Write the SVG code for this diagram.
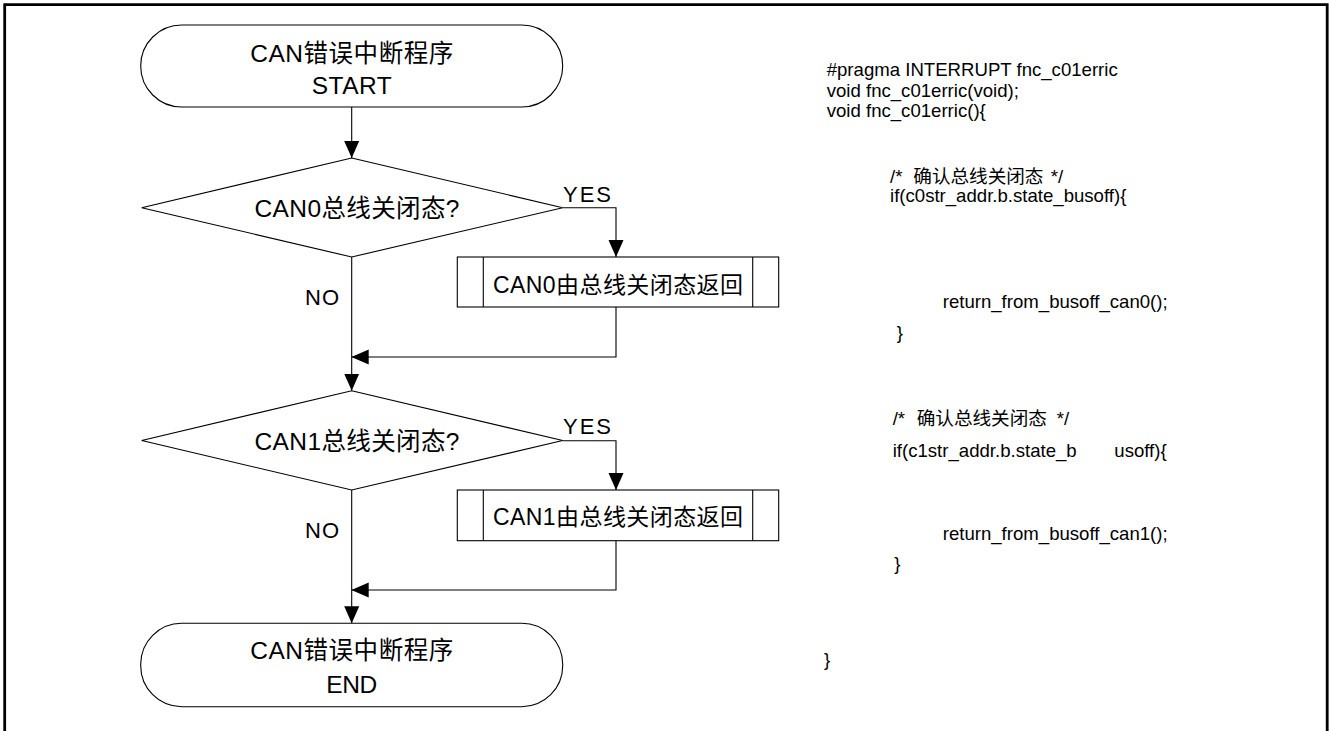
<svg xmlns="http://www.w3.org/2000/svg" width="1329" height="731" viewBox="0 0 1329 731">
  <style>
    .shape { fill: #ffffff; stroke: #000000; stroke-width: 1.1; }
    .line { fill: none; stroke: #000000; stroke-width: 1.1; }
    .lbl { font-family: "Liberation Sans", "Noto Sans CJK SC", sans-serif; font-size: 22px; fill: #000000; }
    .box { font-size: 23px; }
    .big { font-size: 24.5px; }
    .code { font-family: "Liberation Sans", "Noto Sans CJK SC", sans-serif; font-size: 18.6px; fill: #000000; }
  </style>
  <defs>
    <marker id="arrow" markerUnits="userSpaceOnUse" markerWidth="17" markerHeight="17" viewBox="0 0 17 17" refX="17" refY="8.5" orient="auto">
      <path d="M0,1 L17,8.5 L0,16 Z" fill="#000000"/>
    </marker>
  </defs>

  <rect width="1329" height="731" fill="#ffffff"/>

  <!-- outer frame (open at the bottom) -->
  <path d="M4.7,731 V4.7 H1327.2 V731" fill="none" stroke="#000000" stroke-width="2.8"/>

  <!-- connectors -->
  <g id="connectors">
    <path class="line" d="M351.7,107 V158" marker-end="url(#arrow)"/>
    <path class="line" d="M351.7,257 V390.7" marker-end="url(#arrow)"/>
    <path class="line" d="M351.7,490 V623.3" marker-end="url(#arrow)"/>
    <path class="line" d="M562.7,207.7 H616 V257" marker-end="url(#arrow)"/>
    <path class="line" d="M616,307 V357 H351.7" marker-end="url(#arrow)"/>
    <path class="line" d="M562.7,440.7 H616 V490" marker-end="url(#arrow)"/>
    <path class="line" d="M616,540.7 V590 H351.7" marker-end="url(#arrow)"/>
    <text class="lbl" x="563" y="202" textLength="48">YES</text>
    <text class="lbl" x="563" y="434.3" textLength="48">YES</text>
    <text class="lbl" x="305" y="305" textLength="34">NO</text>
    <text class="lbl" x="305" y="538.3" textLength="34">NO</text>
  </g>

  <!-- start terminal -->
  <g id="start">
    <rect class="shape" x="140.7" y="25" width="422" height="82" rx="41" ry="41"/>
    <text class="lbl big" x="351.7" y="62" text-anchor="middle" textLength="203">CAN错误中断程序</text>
    <text class="lbl big" x="351.7" y="94" text-anchor="middle" textLength="80">START</text>
  </g>

  <!-- decision: CAN0 bus-off -->
  <g id="check-can0">
    <polygon class="shape" points="351.7,158 562.7,207.7 351.7,257 141.7,207.7"/>
    <text class="lbl big" x="254.5" y="216.7" textLength="205">CAN0总线关闭态?</text>
  </g>

  <!-- subroutine: CAN0 bus-off recovery -->
  <g id="recover-can0">
    <rect class="shape" x="457.3" y="257" width="321.4" height="50"/>
    <line class="line" x1="483.3" y1="257" x2="483.3" y2="307"/>
    <line class="line" x1="752.7" y1="257" x2="752.7" y2="307"/>
    <text class="lbl box" x="493" y="293" textLength="250">CAN0由总线关闭态返回</text>
  </g>

  <!-- decision: CAN1 bus-off -->
  <g id="check-can1">
    <polygon class="shape" points="351.7,390.7 562.7,440.5 351.7,490 141.7,440.5"/>
    <text class="lbl big" x="254.5" y="450" textLength="205">CAN1总线关闭态?</text>
  </g>

  <!-- subroutine: CAN1 bus-off recovery -->
  <g id="recover-can1">
    <rect class="shape" x="457.3" y="490" width="321.4" height="50.7"/>
    <line class="line" x1="483.3" y1="490" x2="483.3" y2="540.7"/>
    <line class="line" x1="752.7" y1="490" x2="752.7" y2="540.7"/>
    <text class="lbl box" x="493" y="525" textLength="250">CAN1由总线关闭态返回</text>
  </g>

  <!-- end terminal -->
  <g id="end">
    <rect class="shape" x="140.7" y="623.3" width="422" height="83.4" rx="41" ry="41"/>
    <text class="lbl big" x="351.7" y="659.3" text-anchor="middle" textLength="203">CAN错误中断程序</text>
    <text class="lbl big" x="351.7" y="692.7" text-anchor="middle" textLength="51">END</text>
  </g>

  <!-- source listing -->
  <g id="listing">
    <text class="code" x="826.7" y="76">#pragma INTERRUPT fnc_c01erric</text>
    <text class="code" x="826.7" y="96.7">void fnc_c01erric(void);</text>
    <text class="code" x="826.7" y="117.3">void fnc_c01erric(){</text>

    <text class="code" y="183.3"><tspan x="890">/*</tspan><tspan x="913.3">确认总线关闭态</tspan><tspan x="1050.7">*/</tspan></text>
    <text class="code" x="890" y="201.7">if(c0str_addr.b.state_busoff){</text>
    <text class="code" x="942.7" y="308.3">return_from_busoff_can0();</text>
    <text class="code" x="896.7" y="339">}</text>

    <text class="code" y="425"><tspan x="892.7">/*</tspan><tspan x="916.7">确认总线关闭态</tspan><tspan x="1056.7">*/</tspan></text>
    <text class="code" y="456.7"><tspan x="892.7">if(c1str_addr.b.state_b</tspan><tspan x="1114.3">usoff){</tspan></text>
    <text class="code" x="942.7" y="540">return_from_busoff_can1();</text>
    <text class="code" x="894.3" y="570">}</text>

    <text class="code" x="824" y="666">}</text>
  </g>
</svg>
